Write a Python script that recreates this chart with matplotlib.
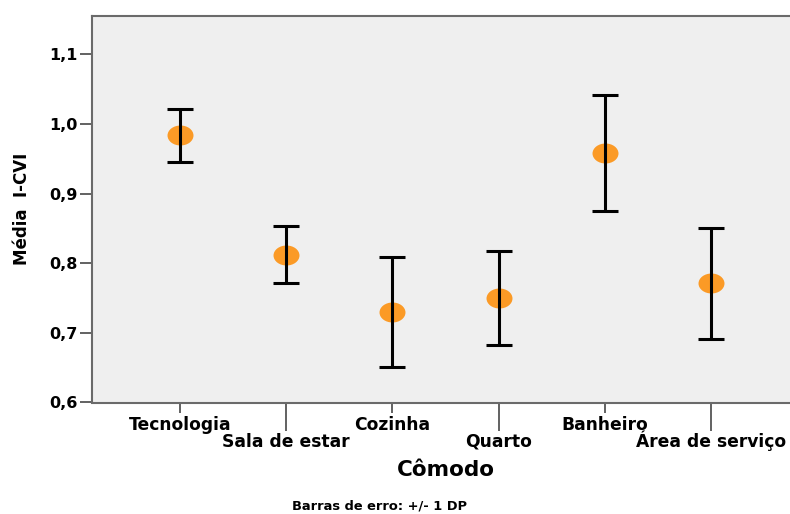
import numpy as np
import matplotlib
matplotlib.use("Agg")
import matplotlib.pyplot as plt
from matplotlib.path import Path

plt.rcParams['font.family'] = ['DejaVu Sans']
plt.rcParams['font.weight'] = 'bold'

# Dados
comodos = ["Tecnologia", "Sala de estar", "Cozinha", "Quarto", "Banheiro", "Área de serviço"]
medias = [0.984, 0.812, 0.730, 0.750, 0.958, 0.771]
desvios = [0.038, 0.041, 0.079, 0.068, 0.083, 0.080]
yticks = [0.6, 0.7, 0.8, 0.9, 1.0, 1.1]
ytick_labels = ["0,6", "0,7", "0,8", "0,9", "1,0", "1,1"]

fig = plt.figure(figsize=(7.9, 5.14), dpi=100)
ax = fig.add_axes([92 / 790, (514 - 402.5) / 514, (790 - 92) / 790, (402.5 - 16) / 514])
ax.set_facecolor("#efefef")

x = np.arange(len(comodos))

# marcador elíptico
circ = Path.unit_circle()
elipse = Path(circ.vertices * np.array([1.0, 0.77]), circ.codes)

ax.plot(x, medias, linestyle="none", marker=elipse, markersize=18.7,
        markerfacecolor="#fb9a26", markeredgecolor="none", zorder=2)
ax.errorbar(x, medias, yerr=desvios, fmt="none", ecolor="black",
            elinewidth=2.2, capsize=9.4, capthick=2.2, zorder=3)

ax.set_ylim(0.6, 1.155)
ax.set_xlim(-0.829, 5.744)
ax.set_yticks(yticks)
ax.set_yticklabels(ytick_labels, fontsize=11.5, fontweight="bold")
ax.tick_params(axis="y", length=8.5, width=1.3, color="#555555", pad=2)

# rótulos alternados: pares em ticks curtos, ímpares em ticks longos
pares = x[::2]
impares = x[1::2]
ax.set_xticks(pares)
ax.set_xticklabels([comodos[i] for i in pares], fontsize=12.3, fontweight="bold", va="baseline")
ax.set_xticks(impares, minor=True)
ax.set_xticklabels([comodos[i] for i in impares], minor=True, fontsize=12.3,
                   fontweight="bold", va="baseline")
ax.tick_params(axis="x", which="major", length=7.5, width=1.3, color="#555555", pad=12)
ax.tick_params(axis="x", which="minor", length=20, width=1.3, color="#555555", pad=12)

for lado in ["left", "top", "bottom"]:
    ax.spines[lado].set_color("#6a6a6a")
    ax.spines[lado].set_linewidth(1.5)
ax.spines["right"].set_visible(False)

fig.text(22 / 790, 1 - 209 / 514, "Média  I-CVI", rotation=90, ha="center", va="center",
         fontsize=12, fontweight="bold")
fig.text(446 / 790, 1 - 470 / 514, "Cômodo", ha="center", va="center",
         fontsize=15.5, fontweight="bold")
fig.text(380 / 790, 1 - 506 / 514, "Barras de erro: +/- 1 DP", ha="center", va="center",
         fontsize=9.4, fontweight="bold")

fig.savefig("out.png", dpi=100)
